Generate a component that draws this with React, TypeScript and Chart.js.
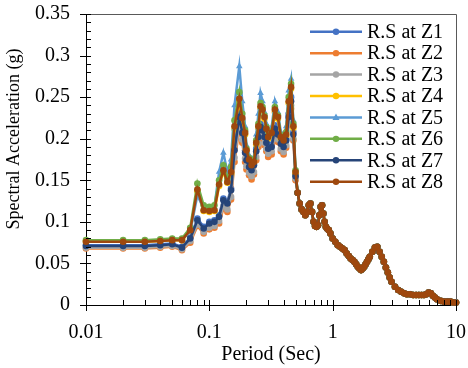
import React, { useEffect, useRef } from 'react';
import { Chart, registerables } from 'chart.js';

Chart.register(...registerables);

// ---------- data ----------
const HEAD_PERIODS = [0.01, 0.02, 0.03, 0.04, 0.05, 0.06, 0.07, 0.08, 0.09, 0.10, 0.11, 0.12, 0.13, 0.14, 0.15, 0.16, 0.175, 0.185, 0.195, 0.20, 0.21, 0.22, 0.23, 0.24, 0.25, 0.26, 0.27, 0.28, 0.29, 0.30, 0.32, 0.34, 0.36, 0.38, 0.40, 0.42, 0.44, 0.46, 0.48, 0.50];

const TAIL_PERIODS = [0.52, 0.54, 0.56, 0.58, 0.6, 0.62, 0.64, 0.66, 0.68, 0.7, 0.72, 0.74, 0.76, 0.78, 0.8, 0.82, 0.84, 0.86, 0.88, 0.9, 0.93, 0.96, 1.0, 1.05, 1.1, 1.15, 1.2, 1.25, 1.3, 1.35, 1.4, 1.45, 1.5, 1.55, 1.6, 1.65, 1.7, 1.75, 1.8, 1.85, 1.9, 1.95, 2.0, 2.1, 2.2, 2.3, 2.4, 2.5, 2.6, 2.7, 2.8, 2.9, 3.0, 3.2, 3.4, 3.6, 3.8, 4.0, 4.25, 4.5, 4.75, 5.0, 5.25, 5.5, 5.75, 6.0, 6.25, 6.5, 6.75, 7.0, 7.5, 8.0, 8.5, 9.0, 9.5, 10.0];
const TAIL_VALUES = [0.135, 0.122, 0.115, 0.112, 0.108, 0.112, 0.120, 0.122, 0.112, 0.100, 0.095, 0.094, 0.096, 0.108, 0.118, 0.120, 0.110, 0.100, 0.094, 0.092, 0.090, 0.086, 0.080, 0.076, 0.072, 0.070, 0.068, 0.066, 0.062, 0.059, 0.056, 0.054, 0.052, 0.049, 0.046, 0.044, 0.042, 0.044, 0.046, 0.049, 0.052, 0.055, 0.058, 0.064, 0.069, 0.070, 0.064, 0.058, 0.052, 0.045, 0.039, 0.033, 0.028, 0.022, 0.018, 0.016, 0.014, 0.013, 0.013, 0.012, 0.012, 0.012, 0.012, 0.012, 0.013, 0.015, 0.014, 0.011, 0.009, 0.007, 0.005, 0.004, 0.004, 0.004, 0.003, 0.003];

const Z1 = [0.072, 0.072, 0.072, 0.073, 0.074, 0.070, 0.081, 0.104, 0.094, 0.100, 0.102, 0.108, 0.128, 0.124, 0.140, 0.190, 0.232, 0.212, 0.186, 0.176, 0.168, 0.164, 0.170, 0.188, 0.206, 0.218, 0.213, 0.205, 0.197, 0.190, 0.193, 0.216, 0.208, 0.196, 0.192, 0.200, 0.230, 0.250, 0.208, 0.157];
const Z2 = [0.068, 0.068, 0.068, 0.069, 0.070, 0.066, 0.075, 0.095, 0.086, 0.091, 0.093, 0.098, 0.116, 0.112, 0.127, 0.172, 0.212, 0.195, 0.172, 0.163, 0.156, 0.151, 0.157, 0.174, 0.190, 0.203, 0.199, 0.192, 0.185, 0.178, 0.181, 0.202, 0.196, 0.185, 0.181, 0.189, 0.217, 0.236, 0.198, 0.150];
const Z3 = [0.069, 0.069, 0.069, 0.070, 0.071, 0.067, 0.077, 0.097, 0.088, 0.093, 0.095, 0.101, 0.119, 0.115, 0.130, 0.177, 0.217, 0.199, 0.176, 0.167, 0.159, 0.155, 0.160, 0.178, 0.194, 0.206, 0.202, 0.195, 0.188, 0.182, 0.185, 0.205, 0.199, 0.188, 0.184, 0.192, 0.220, 0.240, 0.200, 0.152];
const Z4 = [0.076, 0.076, 0.076, 0.077, 0.078, 0.078, 0.089, 0.137, 0.113, 0.112, 0.113, 0.143, 0.160, 0.147, 0.158, 0.212, 0.245, 0.222, 0.205, 0.185, 0.174, 0.167, 0.171, 0.193, 0.213, 0.237, 0.233, 0.224, 0.210, 0.200, 0.205, 0.232, 0.224, 0.200, 0.196, 0.203, 0.243, 0.260, 0.213, 0.158];
const Z5 = [0.077, 0.077, 0.077, 0.078, 0.079, 0.079, 0.088, 0.132, 0.116, 0.115, 0.118, 0.160, 0.183, 0.160, 0.175, 0.240, 0.287, 0.245, 0.215, 0.192, 0.180, 0.172, 0.178, 0.205, 0.230, 0.255, 0.245, 0.232, 0.218, 0.208, 0.214, 0.245, 0.232, 0.208, 0.203, 0.215, 0.258, 0.272, 0.222, 0.163];
const Z6 = [0.078, 0.078, 0.078, 0.079, 0.080, 0.080, 0.093, 0.146, 0.120, 0.118, 0.120, 0.150, 0.168, 0.152, 0.166, 0.222, 0.256, 0.230, 0.210, 0.188, 0.177, 0.170, 0.175, 0.198, 0.218, 0.243, 0.238, 0.228, 0.214, 0.204, 0.209, 0.238, 0.228, 0.204, 0.200, 0.208, 0.250, 0.266, 0.218, 0.162];
const Z7 = [0.071, 0.071, 0.071, 0.072, 0.073, 0.069, 0.080, 0.102, 0.092, 0.098, 0.100, 0.106, 0.126, 0.122, 0.138, 0.186, 0.226, 0.207, 0.183, 0.174, 0.166, 0.162, 0.168, 0.185, 0.202, 0.214, 0.210, 0.202, 0.195, 0.188, 0.190, 0.212, 0.205, 0.194, 0.190, 0.198, 0.226, 0.245, 0.205, 0.155];
const Z8 = [0.076, 0.076, 0.076, 0.077, 0.078, 0.078, 0.090, 0.139, 0.114, 0.113, 0.114, 0.145, 0.162, 0.148, 0.160, 0.215, 0.248, 0.225, 0.207, 0.186, 0.175, 0.168, 0.172, 0.195, 0.215, 0.239, 0.235, 0.226, 0.212, 0.202, 0.207, 0.235, 0.226, 0.202, 0.198, 0.205, 0.245, 0.262, 0.215, 0.160];

const SERIES_HEADS = [Z1, Z2, Z3, Z4, Z5, Z6, Z7, Z8];
const SERIES_LABELS = ['R.S at Z1', 'R.S at Z2', 'R.S at Z3', 'R.S at Z4', 'R.S at Z5', 'R.S at Z6', 'R.S at Z7', 'R.S at Z8'];
const SERIES_COLORS = ['#4472C4', '#ED7D31', '#A5A5A5', '#FFC000', '#5B9BD5', '#70AD47', '#264478', '#9E480E'];
const SERIES_MARKERS = ['circle', 'circle', 'circle', 'circle', 'triangle', 'circle', 'circle', 'circle'];

const X_TICKS = [0.01, 0.1, 1, 10];
const X_TICK_LABELS = ['0.01', '0.1', '1', '10'];
const Y_MAJOR_STEP = 0.05;
const X_TITLE = 'Period (Sec)';
const Y_TITLE = 'Spectral Acceleration (g)';

const FAMILY = '"Liberation Serif", "Times New Roman", serif';

function drawMarker(ctx: CanvasRenderingContext2D, style: string, x: number, y: number, r: number, color: string) {
  ctx.fillStyle = color;
  ctx.beginPath();
  if (style === 'triangle') {
    ctx.moveTo(x, y - r * 1.2);
    ctx.lineTo(x + r * 1.1, y + r * 0.8);
    ctx.lineTo(x - r * 1.1, y + r * 0.8);
    ctx.closePath();
  } else {
    ctx.arc(x, y, r, 0, Math.PI * 2);
  }
  ctx.fill();
}

const decorPlugin = {
  id: 'decor',
  afterDraw(chart: any) {
    const { ctx, chartArea: a, scales } = chart;
    const xs = scales.x;
    const ys = scales.y;
    ctx.save();
    // frame top/right
    ctx.strokeStyle = '#595959';
    ctx.lineWidth = 1;
    ctx.beginPath();
    ctx.moveTo(a.left, a.top + 0.5);
    ctx.lineTo(Math.round(a.right) + 0.5, a.top + 0.5);
    ctx.lineTo(Math.round(a.right) + 0.5, a.bottom);
    ctx.stroke();

    ctx.strokeStyle = '#000';
    ctx.beginPath();
    // x minor (inside) and major (crossing) ticks
    for (let d = 0.01; d < 9; d *= 10) {
      for (let k = 1; k <= 9; k++) {
        const px = Math.round(xs.getPixelForValue(k * d)) + 0.5;
        ctx.moveTo(px, a.bottom);
        ctx.lineTo(px, a.bottom - 5);
      }
    }
    X_TICKS.forEach((v) => {
      const px = Math.round(xs.getPixelForValue(v)) + 0.5;
      ctx.moveTo(px, a.bottom - 5);
      ctx.lineTo(px, a.bottom + 6);
    });
    // y minor (inside) and major (crossing) ticks
    for (let i = 0; i <= 35; i++) {
      const py = Math.round(ys.getPixelForValue(i / 100)) + 0.5;
      ctx.moveTo(a.left, py);
      ctx.lineTo(a.left + 5, py);
    }
    for (let v = 0; v <= 0.35 + 1e-9; v += Y_MAJOR_STEP) {
      const py = Math.round(ys.getPixelForValue(v)) + 0.5;
      ctx.moveTo(a.left - 6, py);
      ctx.lineTo(a.left, py);
    }
    ctx.stroke();

    // y title
    ctx.fillStyle = '#000';
    ctx.font = `18px ${FAMILY}`;
    ctx.textAlign = 'center';
    ctx.textBaseline = 'middle';
    ctx.translate(14, 139);
    ctx.rotate(-Math.PI / 2);
    ctx.fillText(Y_TITLE, 0, 0);
    ctx.setTransform(1, 0, 0, 1, 0, 0);

    // legend
    ctx.font = `20px ${FAMILY}`;
    ctx.textAlign = 'left';
    ctx.textBaseline = 'middle';
    SERIES_LABELS.forEach((lab, i) => {
      const y = 31.7 + i * 21.43;
      ctx.strokeStyle = SERIES_COLORS[i];
      ctx.lineWidth = 2.5;
      ctx.beginPath();
      ctx.moveTo(310, y);
      ctx.lineTo(362, y);
      ctx.stroke();
      drawMarker(ctx, SERIES_MARKERS[i], 336, y, 3.2, SERIES_COLORS[i]);
      ctx.fillStyle = '#000';
      ctx.fillText(lab, 367, y + 1);
    });
    ctx.restore();
  },
};

export default function App() {
  const ref = useRef<HTMLCanvasElement>(null);
  useEffect(() => {
    const periods = HEAD_PERIODS.concat(TAIL_PERIODS);
    const datasets = SERIES_HEADS.map((head, i) => {
      const vals = head.concat(TAIL_VALUES);
      return {
        label: SERIES_LABELS[i],
        data: periods.map((p, j) => ({ x: p, y: vals[j] })),
        borderColor: SERIES_COLORS[i],
        backgroundColor: SERIES_COLORS[i],
        pointBackgroundColor: SERIES_COLORS[i],
        pointBorderColor: SERIES_COLORS[i],
        borderWidth: 2.5,
        pointRadius: SERIES_MARKERS[i] === 'triangle' ? 3.8 : 3.3,
        pointBorderWidth: 0,
        pointStyle: SERIES_MARKERS[i],
        tension: 0,
        order: 8 - i,
        clip: false,
      };
    });
    const font = { family: FAMILY, size: 20 };
    const chart = new Chart(ref.current as HTMLCanvasElement, {
      type: 'line',
      data: { datasets } as any,
      plugins: [decorPlugin],
      options: {
        animation: false,
        responsive: true,
        maintainAspectRatio: false,
        layout: { padding: { top: 14, right: 12, left: 0, bottom: 0 } },
        plugins: { legend: { display: false }, tooltip: { enabled: false } },
        scales: {
          x: {
            type: 'logarithmic',
            min: 0.01,
            max: 10,
            afterBuildTicks: (s: any) => {
              s.ticks = X_TICKS.map((v) => ({ value: v }));
            },
            afterFit: (s: any) => {
              s.height = 63;
            },
            ticks: {
              autoSkip: false,
              maxRotation: 0,
              padding: 0,
              color: '#000',
              font,
              callback: (_v: any, idx: number) => X_TICK_LABELS[idx],
            },
            grid: { drawOnChartArea: false, drawTicks: true, tickLength: 16, tickColor: 'rgba(0,0,0,0)' },
            border: { display: true, color: '#000', width: 1 },
            title: { display: true, text: X_TITLE, color: '#000', font, padding: { top: 0, bottom: 1 } },
          },
          y: {
            type: 'linear',
            min: 0,
            max: 0.35,
            afterFit: (s: any) => {
              s.width = 86;
            },
            ticks: {
              stepSize: Y_MAJOR_STEP,
              padding: 0,
              color: '#000',
              font,
              callback: (v: any) => {
                const n = Number(v);
                return n === 0 ? '0' : String(parseFloat(n.toFixed(2)));
              },
            },
            grid: { drawOnChartArea: false, drawTicks: true, tickLength: 16, tickColor: 'rgba(0,0,0,0)' },
            border: { display: true, color: '#000', width: 1 },
          },
        },
      } as any,
    });
    return () => chart.destroy();
  }, []);
  return (
    <div style={{ position: 'absolute', left: 0, top: 0, width: 468, height: 368 }}>
      <canvas ref={ref} />
    </div>
  );
}
